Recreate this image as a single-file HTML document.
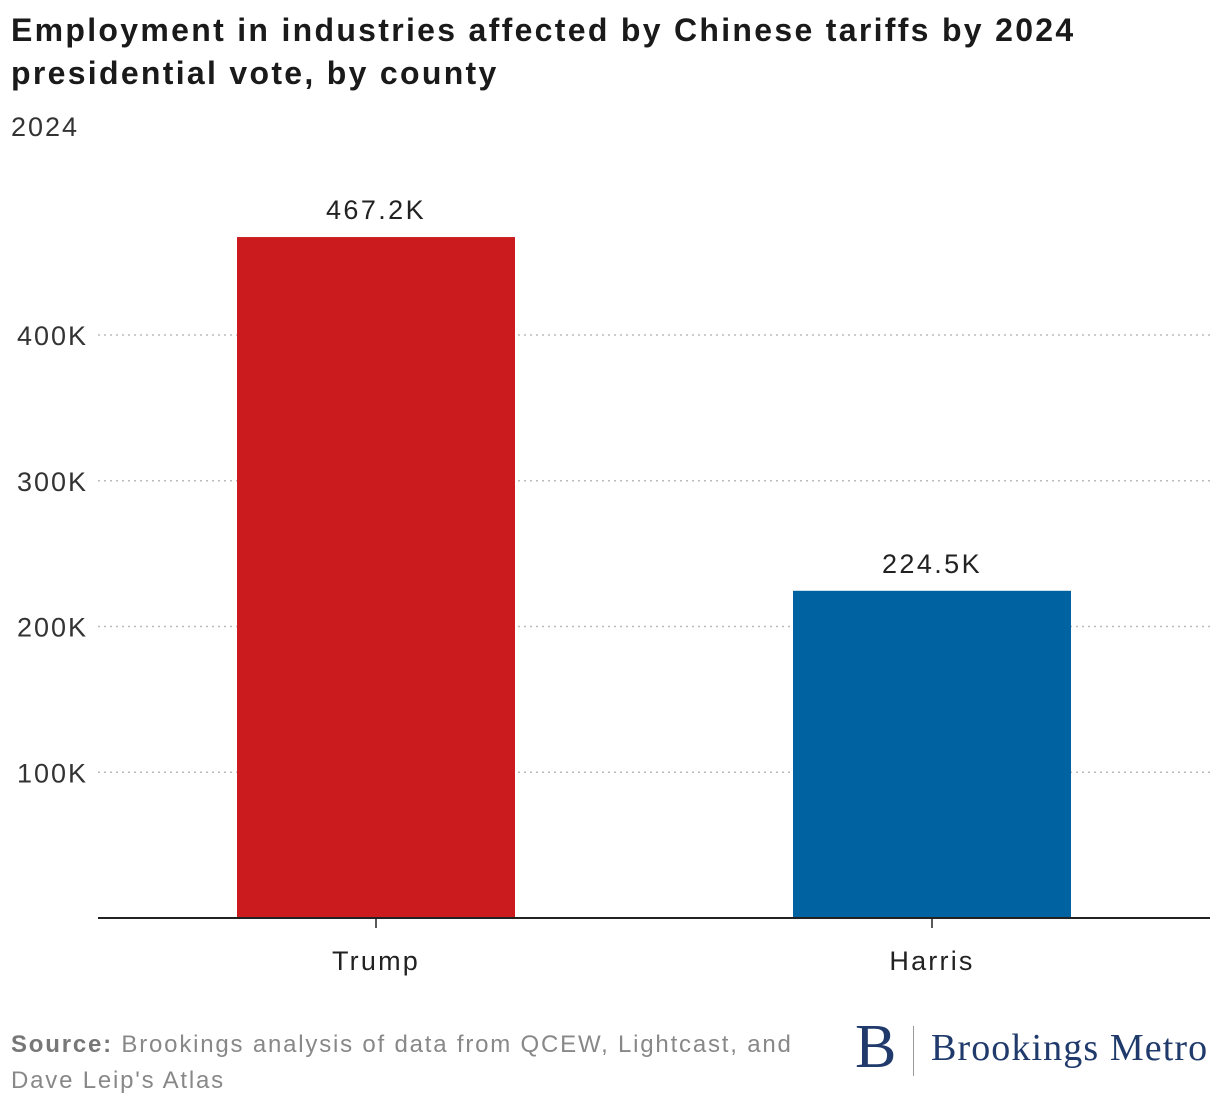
<!DOCTYPE html>
<html><head><meta charset="utf-8"><style>
body{margin:0;background:#fff;width:1220px;height:1110px;overflow:hidden;font-family:"Liberation Sans",sans-serif;color:#222}
.t{position:absolute;left:11px;top:9px;font-size:32px;letter-spacing:2.3px;font-weight:bold;line-height:43px;color:#1a1a1a;white-space:nowrap}
.sub{position:absolute;left:11px;top:112px;font-size:27px;letter-spacing:2px;color:#333}
.src{position:absolute;left:11px;top:1027px;font-size:24px;letter-spacing:1.8px;line-height:36px;color:#888;white-space:nowrap}
.src b{color:#777}
</style></head><body>
<div class="t">Employment in industries affected by Chinese tariffs by 2024<br>presidential vote, by county</div>
<div class="sub">2024</div>
<svg id="c" width="1220" height="1110" style="position:absolute;left:0;top:0"></svg>
<div class="src"><b>Source:</b> Brookings analysis of data from QCEW, Lightcast, and<br>Dave Leip's Atlas</div>
<div style="position:absolute;left:855px;top:1018px;font-family:'Liberation Serif',serif;color:#1f3a6b">
<span style="font-size:62px;position:absolute;left:0;top:-6px">B</span>
<span style="position:absolute;left:58px;top:8px;width:1px;height:50px;background:#999"></span>
<span style="position:absolute;left:76px;top:8px;font-size:38px;letter-spacing:1.1px;white-space:nowrap">Brookings Metro</span></div>
<script>
const categories=["Trump","Harris"];
const values=[467.2,224.5];
const labels=["467.2K","224.5K"];
const ticks=[100,200,300,400];
const colors=["#cc1b1f","#0062a1"];
const svg=document.getElementById('c');const NS='http://www.w3.org/2000/svg';
const x0=98,x1=1210,y0=918,pxPer=1.4575;
const y=v=>y0-v*pxPer;
const bw=(x1-x0)/categories.length;
const xc=i=>x0+bw*(i+0.5);
function mk(t,a){const e=document.createElementNS(NS,t);for(const k in a)e.setAttribute(k,a[k]);svg.appendChild(e);return e;}
ticks.forEach(t=>{
 const l=mk('line',{x1:x0,x2:x1,y1:y(t),y2:y(t),stroke:'#bbb','stroke-width':1.5,'stroke-dasharray':'2,4'});
 
 
 const tx=mk('text',{x:88,y:y(t)+10,'text-anchor':'end','font-size':27,'letter-spacing':2,fill:'#333','font-family':'Liberation Sans,sans-serif'});
 tx.textContent=t+'K';
 
 
});
categories.forEach((c,i)=>{
 const w=bw*0.5;
 const r=mk('rect',{x:xc(i)-w/2,y:y(values[i]),width:w,height:y0-y(values[i]),fill:colors[i]});
 
 
 const v=mk('text',{x:xc(i),y:y(values[i])-18,'text-anchor':'middle','font-size':27,'letter-spacing':2.4,fill:'#222','font-family':'Liberation Sans,sans-serif'});
 v.textContent=labels[i];
 
 
 mk('line',{x1:xc(i),x2:xc(i),y1:y0,y2:y0+10,stroke:'#222','stroke-width':1.5});
 const xl=mk('text',{x:xc(i),y:y0+52,'text-anchor':'middle','font-size':27,'letter-spacing':2.2,fill:'#222','font-family':'Liberation Sans,sans-serif'});
 xl.textContent=c;
 
 
});
const ax=mk('line',{x1:x0,x2:x1,y1:y0,y2:y0,stroke:'#222','stroke-width':2});


</script>
</body></html>
